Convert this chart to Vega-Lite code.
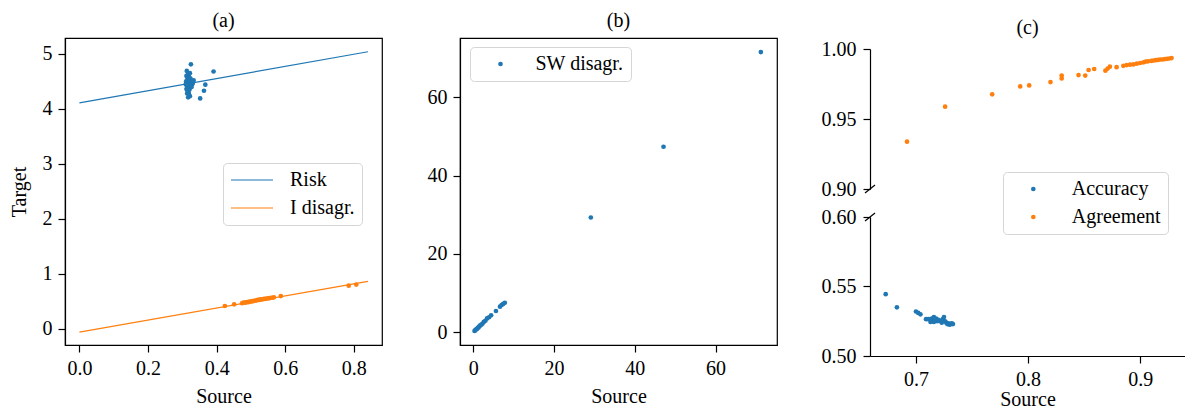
{
  "$schema": "https://vega.github.io/schema/vega-lite/v6.json",
  "padding": {"left": 8, "top": 10, "right": 0, "bottom": 0},
  "background": "white",
  "config": {
    "font": "Liberation Serif",
    "view": {"stroke": "black", "strokeWidth": 1.2},
    "axis": {"labelFont": "Liberation Serif", "labelFontSize": 20, "labelColor": "black", "titleFont": "Liberation Serif", "titleFontSize": 20, "titleFontWeight": "normal", "titleColor": "black", "domainColor": "black", "domainWidth": 1.2, "tickColor": "black", "tickSize": 7, "tickWidth": 1.2, "grid": false, "labelPadding": 6, "titlePadding": 8, "labelFlush": false, "labelOverlap": false},
    "title": {"font": "Liberation Serif", "fontSize": 20, "fontWeight": "normal", "color": "black", "offset": 7},
    "legend": {"labelFont": "Liberation Serif", "labelFontSize": 20, "labelColor": "black", "strokeColor": "#d5d5d5", "fillColor": "white", "cornerRadius": 4, "padding": 7, "orient": "none", "title": null}
  },
  "datasets": {
    "lineA": [
      {"series": "Risk", "x": 0, "y": 4.11},
      {"series": "Risk", "x": 0.841, "y": 5.04},
      {"series": "I disagr.", "x": 0, "y": -0.066},
      {"series": "I disagr.", "x": 0.841, "y": 0.86}
    ],
    "ptsA": [
      {"series": "Risk", "x": 0.325, "y": 4.81},
      {"series": "Risk", "x": 0.391, "y": 4.68},
      {"series": "Risk", "x": 0.367, "y": 4.44},
      {"series": "Risk", "x": 0.363, "y": 4.33},
      {"series": "Risk", "x": 0.352, "y": 4.19},
      {"series": "Risk", "x": 0.322, "y": 4.23},
      {"series": "Risk", "x": 0.317, "y": 4.21},
      {"series": "Risk", "x": 0.313, "y": 4.69},
      {"series": "Risk", "x": 0.322, "y": 4.65},
      {"series": "Risk", "x": 0.312, "y": 4.60},
      {"series": "Risk", "x": 0.315, "y": 4.55},
      {"series": "Risk", "x": 0.318, "y": 4.52},
      {"series": "Risk", "x": 0.311, "y": 4.50},
      {"series": "Risk", "x": 0.314, "y": 4.48},
      {"series": "Risk", "x": 0.320, "y": 4.47},
      {"series": "Risk", "x": 0.316, "y": 4.45},
      {"series": "Risk", "x": 0.313, "y": 4.42},
      {"series": "Risk", "x": 0.319, "y": 4.40},
      {"series": "Risk", "x": 0.317, "y": 4.38},
      {"series": "Risk", "x": 0.312, "y": 4.36},
      {"series": "Risk", "x": 0.321, "y": 4.35},
      {"series": "Risk", "x": 0.315, "y": 4.33},
      {"series": "Risk", "x": 0.318, "y": 4.30},
      {"series": "Risk", "x": 0.323, "y": 4.50},
      {"series": "Risk", "x": 0.326, "y": 4.46},
      {"series": "Risk", "x": 0.320, "y": 4.58},
      {"series": "Risk", "x": 0.316, "y": 4.62},
      {"series": "Risk", "x": 0.324, "y": 4.55},
      {"series": "Risk", "x": 0.329, "y": 4.45},
      {"series": "Risk", "x": 0.331, "y": 4.48},
      {"series": "Risk", "x": 0.314, "y": 4.28},
      {"series": "Risk", "x": 0.319, "y": 4.27},
      {"series": "Risk", "x": 0.322, "y": 4.43},
      {"series": "Risk", "x": 0.327, "y": 4.40},
      {"series": "Risk", "x": 0.333, "y": 4.52},
      {"series": "Risk", "x": 0.310, "y": 4.45},
      {"series": "Risk", "x": 0.318, "y": 4.64},
      {"series": "I disagr.", "x": 0.424, "y": 0.41},
      {"series": "I disagr.", "x": 0.451, "y": 0.44},
      {"series": "I disagr.", "x": 0.474, "y": 0.46},
      {"series": "I disagr.", "x": 0.478, "y": 0.47},
      {"series": "I disagr.", "x": 0.483, "y": 0.47},
      {"series": "I disagr.", "x": 0.488, "y": 0.48},
      {"series": "I disagr.", "x": 0.492, "y": 0.48},
      {"series": "I disagr.", "x": 0.496, "y": 0.49},
      {"series": "I disagr.", "x": 0.500, "y": 0.49},
      {"series": "I disagr.", "x": 0.504, "y": 0.50},
      {"series": "I disagr.", "x": 0.508, "y": 0.50},
      {"series": "I disagr.", "x": 0.512, "y": 0.51},
      {"series": "I disagr.", "x": 0.516, "y": 0.51},
      {"series": "I disagr.", "x": 0.520, "y": 0.52},
      {"series": "I disagr.", "x": 0.524, "y": 0.52},
      {"series": "I disagr.", "x": 0.528, "y": 0.53},
      {"series": "I disagr.", "x": 0.533, "y": 0.53},
      {"series": "I disagr.", "x": 0.538, "y": 0.54},
      {"series": "I disagr.", "x": 0.543, "y": 0.54},
      {"series": "I disagr.", "x": 0.548, "y": 0.55},
      {"series": "I disagr.", "x": 0.553, "y": 0.55},
      {"series": "I disagr.", "x": 0.558, "y": 0.56},
      {"series": "I disagr.", "x": 0.563, "y": 0.56},
      {"series": "I disagr.", "x": 0.567, "y": 0.57},
      {"series": "I disagr.", "x": 0.587, "y": 0.59},
      {"series": "I disagr.", "x": 0.785, "y": 0.78},
      {"series": "I disagr.", "x": 0.807, "y": 0.80}
    ],
    "ptsB": [
      {"x": 0.3, "y": 0.3}, {"x": 0.5, "y": 0.5}, {"x": 0.7, "y": 0.7}, {"x": 0.9, "y": 0.8},
      {"x": 1.1, "y": 1.1}, {"x": 1.3, "y": 1.2}, {"x": 1.5, "y": 1.5}, {"x": 1.7, "y": 1.7},
      {"x": 2.0, "y": 1.9}, {"x": 2.3, "y": 2.2}, {"x": 2.6, "y": 2.6}, {"x": 3.0, "y": 2.9},
      {"x": 3.4, "y": 3.5}, {"x": 3.9, "y": 3.8}, {"x": 4.4, "y": 4.3}, {"x": 5.6, "y": 5.4},
      {"x": 6.6, "y": 6.5}, {"x": 7.0, "y": 6.9}, {"x": 7.4, "y": 7.2}, {"x": 7.8, "y": 7.5},
      {"x": 29.1, "y": 29.3}, {"x": 47.1, "y": 47.4}, {"x": 71.2, "y": 71.6}
    ],
    "acc": [
      {"series": "Accuracy", "x": 0.673, "y": 0.5445}, {"series": "Accuracy", "x": 0.683, "y": 0.535},
      {"series": "Accuracy", "x": 0.700, "y": 0.532}, {"series": "Accuracy", "x": 0.702, "y": 0.531},
      {"series": "Accuracy", "x": 0.704, "y": 0.530}, {"series": "Accuracy", "x": 0.709, "y": 0.5265},
      {"series": "Accuracy", "x": 0.711, "y": 0.5265}, {"series": "Accuracy", "x": 0.714, "y": 0.527},
      {"series": "Accuracy", "x": 0.715, "y": 0.5255}, {"series": "Accuracy", "x": 0.716, "y": 0.528},
      {"series": "Accuracy", "x": 0.717, "y": 0.526}, {"series": "Accuracy", "x": 0.718, "y": 0.527},
      {"series": "Accuracy", "x": 0.719, "y": 0.525}, {"series": "Accuracy", "x": 0.720, "y": 0.526},
      {"series": "Accuracy", "x": 0.721, "y": 0.5255}, {"series": "Accuracy", "x": 0.722, "y": 0.525},
      {"series": "Accuracy", "x": 0.723, "y": 0.524}, {"series": "Accuracy", "x": 0.724, "y": 0.5265},
      {"series": "Accuracy", "x": 0.725, "y": 0.528}, {"series": "Accuracy", "x": 0.726, "y": 0.525},
      {"series": "Accuracy", "x": 0.727, "y": 0.524}, {"series": "Accuracy", "x": 0.728, "y": 0.523},
      {"series": "Accuracy", "x": 0.729, "y": 0.5235}, {"series": "Accuracy", "x": 0.730, "y": 0.5225},
      {"series": "Accuracy", "x": 0.731, "y": 0.523}, {"series": "Accuracy", "x": 0.732, "y": 0.5235},
      {"series": "Accuracy", "x": 0.733, "y": 0.523}, {"series": "Accuracy", "x": 0.713, "y": 0.5245},
      {"series": "Accuracy", "x": 0.716, "y": 0.5245}
    ],
    "agr": [
      {"series": "Agreement", "x": 0.692, "y": 0.9338}, {"series": "Agreement", "x": 0.726, "y": 0.9588},
      {"series": "Agreement", "x": 0.768, "y": 0.9676}, {"series": "Agreement", "x": 0.793, "y": 0.9733},
      {"series": "Agreement", "x": 0.801, "y": 0.974}, {"series": "Agreement", "x": 0.820, "y": 0.9764},
      {"series": "Agreement", "x": 0.830, "y": 0.981}, {"series": "Agreement", "x": 0.830, "y": 0.979},
      {"series": "Agreement", "x": 0.845, "y": 0.9814}, {"series": "Agreement", "x": 0.851, "y": 0.981},
      {"series": "Agreement", "x": 0.854, "y": 0.985}, {"series": "Agreement", "x": 0.859, "y": 0.9857},
      {"series": "Agreement", "x": 0.869, "y": 0.9845}, {"series": "Agreement", "x": 0.871, "y": 0.986},
      {"series": "Agreement", "x": 0.873, "y": 0.9874}, {"series": "Agreement", "x": 0.879, "y": 0.987},
      {"series": "Agreement", "x": 0.885, "y": 0.988}, {"series": "Agreement", "x": 0.888, "y": 0.9885},
      {"series": "Agreement", "x": 0.891, "y": 0.9888}, {"series": "Agreement", "x": 0.894, "y": 0.989},
      {"series": "Agreement", "x": 0.897, "y": 0.9895}, {"series": "Agreement", "x": 0.900, "y": 0.990},
      {"series": "Agreement", "x": 0.903, "y": 0.9905}, {"series": "Agreement", "x": 0.905, "y": 0.991},
      {"series": "Agreement", "x": 0.907, "y": 0.9912}, {"series": "Agreement", "x": 0.910, "y": 0.9915},
      {"series": "Agreement", "x": 0.912, "y": 0.9918}, {"series": "Agreement", "x": 0.914, "y": 0.992},
      {"series": "Agreement", "x": 0.916, "y": 0.9922}, {"series": "Agreement", "x": 0.918, "y": 0.9925},
      {"series": "Agreement", "x": 0.920, "y": 0.9925}, {"series": "Agreement", "x": 0.922, "y": 0.9928},
      {"series": "Agreement", "x": 0.924, "y": 0.993}, {"series": "Agreement", "x": 0.926, "y": 0.9932},
      {"series": "Agreement", "x": 0.928, "y": 0.9935}
    ]
  },
  "spacing": 43,
  "resolve": {"scale": {"color": "independent", "x": "independent", "y": "independent"}},
  "hconcat": [
    {
      "width": 317,
      "height": 307,
      "title": "(a)",
      "encoding": {
        "x": {"field": "x", "type": "quantitative", "scale": {"domain": [-0.042, 0.882], "nice": false, "zero": false}, "axis": {"title": "Source", "values": [0, 0.2, 0.4, 0.6, 0.8], "format": ".1f"}},
        "y": {"field": "y", "type": "quantitative", "scale": {"domain": [-0.3, 5.29], "nice": false, "zero": false}, "axis": {"title": "Target", "values": [0, 1, 2, 3, 4, 5], "format": "d", "titlePadding": 13}},
        "color": {"field": "series", "type": "nominal", "scale": {"domain": ["Risk", "I disagr."], "range": ["#1f77b4", "#ff7f0e"]},
          "legend": {"orient": "none", "legendX": 158, "legendY": 125, "symbolType": "stroke", "symbolSize": 1764, "symbolStrokeWidth": 1.2, "clipHeight": 20, "rowPadding": 8, "labelOffset": 16, "padding": 7}}
      },
      "layer": [
        {"data": {"name": "lineA"}, "mark": {"type": "line", "strokeWidth": 1.2}},
        {"data": {"name": "ptsA"}, "mark": {"type": "circle", "size": 22, "opacity": 1}}
      ]
    },
    {
      "width": 317,
      "height": 307,
      "title": "(b)",
      "data": {"name": "ptsB"},
      "mark": {"type": "circle", "size": 22, "opacity": 1},
      "encoding": {
        "x": {"field": "x", "type": "quantitative", "scale": {"domain": [-3.3, 75.2], "nice": false, "zero": false}, "axis": {"title": "Source", "values": [0, 20, 40, 60], "format": "d"}},
        "y": {"field": "y", "type": "quantitative", "scale": {"domain": [-3.3, 75.2], "nice": false, "zero": false}, "axis": {"title": null, "values": [0, 20, 40, 60], "format": "d"}},
        "color": {"datum": "SW disagr.", "type": "nominal", "scale": {"domain": ["SW disagr."], "range": ["#1f77b4"]},
          "legend": {"orient": "none", "legendX": 10, "legendY": 9, "symbolType": "circle", "symbolSize": 22, "symbolOffset": 13.5, "labelOffset": 25, "padding": 7}}
      }
    },
    {
      "spacing": 10,
      "bounds": "flush",
      "vconcat": [
        {
          "width": 315,
          "height": 1,
          "view": {"stroke": null},
          "data": {"values": [{}]},
          "mark": {"type": "point", "opacity": 0},
          "encoding": {}
        },
        {
          "spacing": 28,
          "bounds": "flush",
          "resolve": {"scale": {"color": "independent"}},
          "vconcat": [
            {
              "width": 315,
              "height": 140,
              "title": {"text": "(c)", "dy": 6},
              "view": {"stroke": null},
              "layer": [
                {
                  "data": {"name": "agr"},
                  "mark": {"type": "circle", "size": 22, "opacity": 1},
                  "encoding": {
                    "x": {"field": "x", "type": "quantitative", "scale": {"domain": [0.659, 0.94], "nice": false, "zero": false}, "axis": null},
                    "y": {"field": "y", "type": "quantitative", "scale": {"domain": [0.9, 1.0], "nice": false, "zero": false}, "axis": {"title": null, "values": [0.9, 0.95, 1.0], "format": ".2f", "labelPadding": 7}},
                    "color": {"field": "series", "type": "nominal", "scale": {"domain": ["Accuracy", "Agreement"], "range": ["#1f77b4", "#ff7f0e"]},
                      "legend": {"orient": "none", "legendX": 133, "legendY": 123, "symbolType": "circle", "symbolSize": 22, "symbolOffset": 13.3, "labelOffset": 28.5, "rowPadding": 8, "padding": 7}}
                  }
                },
                {
                  "data": {"values": [{}]},
                  "mark": {"type": "point", "shape": "M-1,0.8L1,-0.8", "size": 100, "filled": false, "color": "black", "strokeWidth": 1.2, "opacity": 1},
                  "encoding": {"x": {"datum": 0.659, "type": "quantitative"}, "y": {"datum": 0.9, "type": "quantitative"}}
                }
              ]
            },
            {
              "width": 315,
              "height": 139,
              "view": {"stroke": null},
              "layer": [
                {
                  "data": {"name": "acc"},
                  "mark": {"type": "circle", "size": 22, "opacity": 1},
                  "encoding": {
                    "x": {"field": "x", "type": "quantitative", "scale": {"domain": [0.659, 0.94], "nice": false, "zero": false}, "axis": {"title": "Source", "values": [0.7, 0.8, 0.9], "format": ".1f", "titlePadding": 0}},
                    "y": {"field": "y", "type": "quantitative", "scale": {"domain": [0.5, 0.6], "nice": false, "zero": false}, "axis": {"title": null, "values": [0.5, 0.55, 0.6], "format": ".2f", "labelPadding": 7}},
                    "color": {"field": "series", "type": "nominal", "scale": {"domain": ["Accuracy", "Agreement"], "range": ["#1f77b4", "#ff7f0e"]}, "legend": null}
                  }
                },
                {
                  "data": {"values": [{}]},
                  "mark": {"type": "point", "shape": "M-1,0.8L1,-0.8", "size": 100, "filled": false, "color": "black", "strokeWidth": 1.2, "opacity": 1},
                  "encoding": {"x": {"datum": 0.659, "type": "quantitative"}, "y": {"datum": 0.6, "type": "quantitative"}}
                }
              ]
            }
          ]
        }
      ]
    }
  ]
}
